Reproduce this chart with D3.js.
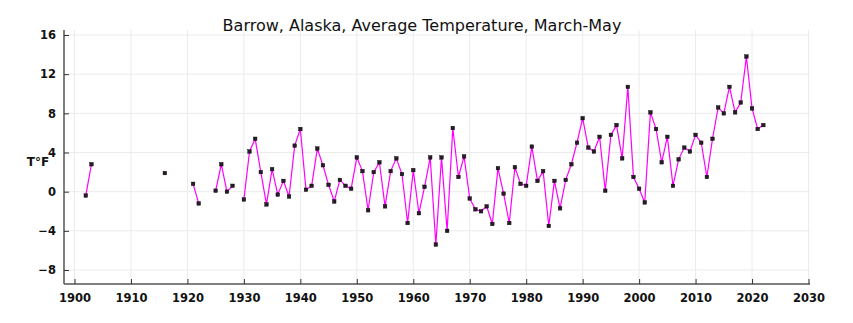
<!DOCTYPE html>
<html><head><meta charset="utf-8">
<script src="https://cdn.jsdelivr.net/npm/d3@7"></script>
<style>body{margin:0;background:#fff}svg{display:block}</style>
</head><body><svg id="c" width="853" height="323"></svg>
<script>
const years = [1902,1903,1916,1921,1922,1925,1926,1927,1928,
1930,1931,1932,1933,1934,1935,1936,1937,1938,1939,1940,1941,1942,1943,1944,1945,1946,1947,1948,1949,
1950,1951,1952,1953,1954,1955,1956,1957,1958,1959,1960,1961,1962,1963,1964,1965,1966,1967,1968,1969,
1970,1971,1972,1973,1974,1975,1976,1977,1978,1979,1980,1981,1982,1983,1984,1985,1986,1987,1988,1989,
1990,1991,1992,1993,1994,1995,1996,1997,1998,1999,2000,2001,2002,2003,2004,2005,2006,2007,2008,2009,
2010,2011,2012,2013,2014,2015,2016,2017,2018,2019,2020,2021,2022];
const temps = [-0.4,2.8,1.9,0.8,-1.2,0.1,2.8,0.0,0.6,
-0.8,4.1,5.4,2.0,-1.3,2.3,-0.3,1.1,-0.5,4.7,6.4,0.2,0.6,4.4,2.7,0.7,-1.0,1.2,0.6,0.3,
3.5,2.1,-1.9,2.0,3.0,-1.5,2.1,3.4,1.8,-3.2,2.2,-2.2,0.5,3.5,-5.4,3.5,-4.0,6.5,1.5,3.6,
-0.7,-1.8,-2.0,-1.5,-3.3,2.4,-0.2,-3.2,2.5,0.8,0.6,4.6,1.1,2.1,-3.5,1.1,-1.7,1.2,2.8,5.0,
7.5,4.5,4.1,5.6,0.1,5.8,6.8,3.4,10.7,1.5,0.3,-1.1,8.1,6.4,3.0,5.6,0.6,3.3,4.5,4.1,
5.8,5.0,1.5,5.4,8.6,8.0,10.7,8.1,9.1,13.8,8.5,6.4,6.8];
const xTicks = [1900,1910,1920,1930,1940,1950,1960,1970,1980,1990,2000,2010,2020,2030];
const yTicks = [-8,-4,0,4,8,12,16];
const title = "Barrow, Alaska, Average Temperature, March-May";
const yLabel = "T°F";

const series = [];
for (let y = years[0]; y <= years[years.length-1]; y++) {
  const i = years.indexOf(y);
  series.push({year: y, v: i >= 0 ? temps[i] : null});
}

const svg = d3.select("#c");
const L = 64, R = 810, T = 30, B = 284;
const x = d3.scaleLinear().domain([1900, 2030]).range([74.5, 808.5]);
const y = d3.scaleLinear().domain([-8, 16]).range([270, 35]);
const font = "'DejaVu Sans', sans-serif";

svg.append("g").selectAll("line").data(xTicks).join("line")
  .attr("x1", d => x(d)).attr("x2", d => x(d)).attr("y1", T).attr("y2", B)
  .attr("stroke", "#ebebeb").attr("stroke-width", 1);
svg.append("g").selectAll("line").data(yTicks).join("line")
  .attr("x1", L).attr("x2", R).attr("y1", d => y(d)).attr("y2", d => y(d))
  .attr("stroke", "#ebebeb").attr("stroke-width", 1);

const xAxis = d3.axisBottom(x).tickValues(xTicks).tickFormat(d3.format("d")).tickSizeInner(-5).tickSizeOuter(0).tickPadding(10);
const gx = svg.append("g").attr("transform", `translate(0,${B})`).call(xAxis);
gx.select(".domain").attr("d", `M${L},0H${R}`).attr("stroke", "#555").attr("stroke-width", 1.5);
gx.selectAll(".tick line").attr("stroke", "#333").attr("stroke-width", 1);
gx.selectAll("text").attr("font-family", font).attr("font-size", 11.5).attr("font-weight", "bold").attr("fill", "#111");

const yAxis = d3.axisLeft(y).tickValues(yTicks).tickSizeInner(-5).tickSizeOuter(0).tickPadding(8);
const gy = svg.append("g").attr("transform", `translate(${L},0)`).call(yAxis);
gy.select(".domain").attr("d", `M0,${T}V${B}`).attr("stroke", "#555").attr("stroke-width", 1.5);
gy.selectAll(".tick line").attr("stroke", "#333").attr("stroke-width", 1);
gy.selectAll("text").attr("font-family", font).attr("font-size", 11.5).attr("font-weight", "bold").attr("fill", "#111");

const line = d3.line().defined(d => d.v !== null).x(d => x(d.year)).y(d => y(d.v));
svg.append("path").datum(series).attr("d", line)
  .attr("fill", "none").attr("stroke", "#ff00ff").attr("stroke-width", 1.2);

svg.append("g").selectAll("rect").data(series.filter(d => d.v !== null)).join("rect")
  .attr("x", d => x(d.year) - 1.8).attr("y", d => y(d.v) - 1.8)
  .attr("width", 3.6).attr("height", 3.6)
  .attr("fill", "#2a1a2a").attr("stroke", "#000").attr("stroke-width", 0.4);

svg.append("text").attr("x", 422).attr("y", 31).attr("text-anchor", "middle")
  .attr("font-family", font).attr("font-size", 16).attr("fill", "#111").text(title);

svg.append("text").attr("x", 38).attr("y", 166).attr("text-anchor", "middle")
  .attr("font-family", font).attr("font-size", 12).attr("font-weight", "bold").attr("fill", "#111").text(yLabel);
</script></body></html>
